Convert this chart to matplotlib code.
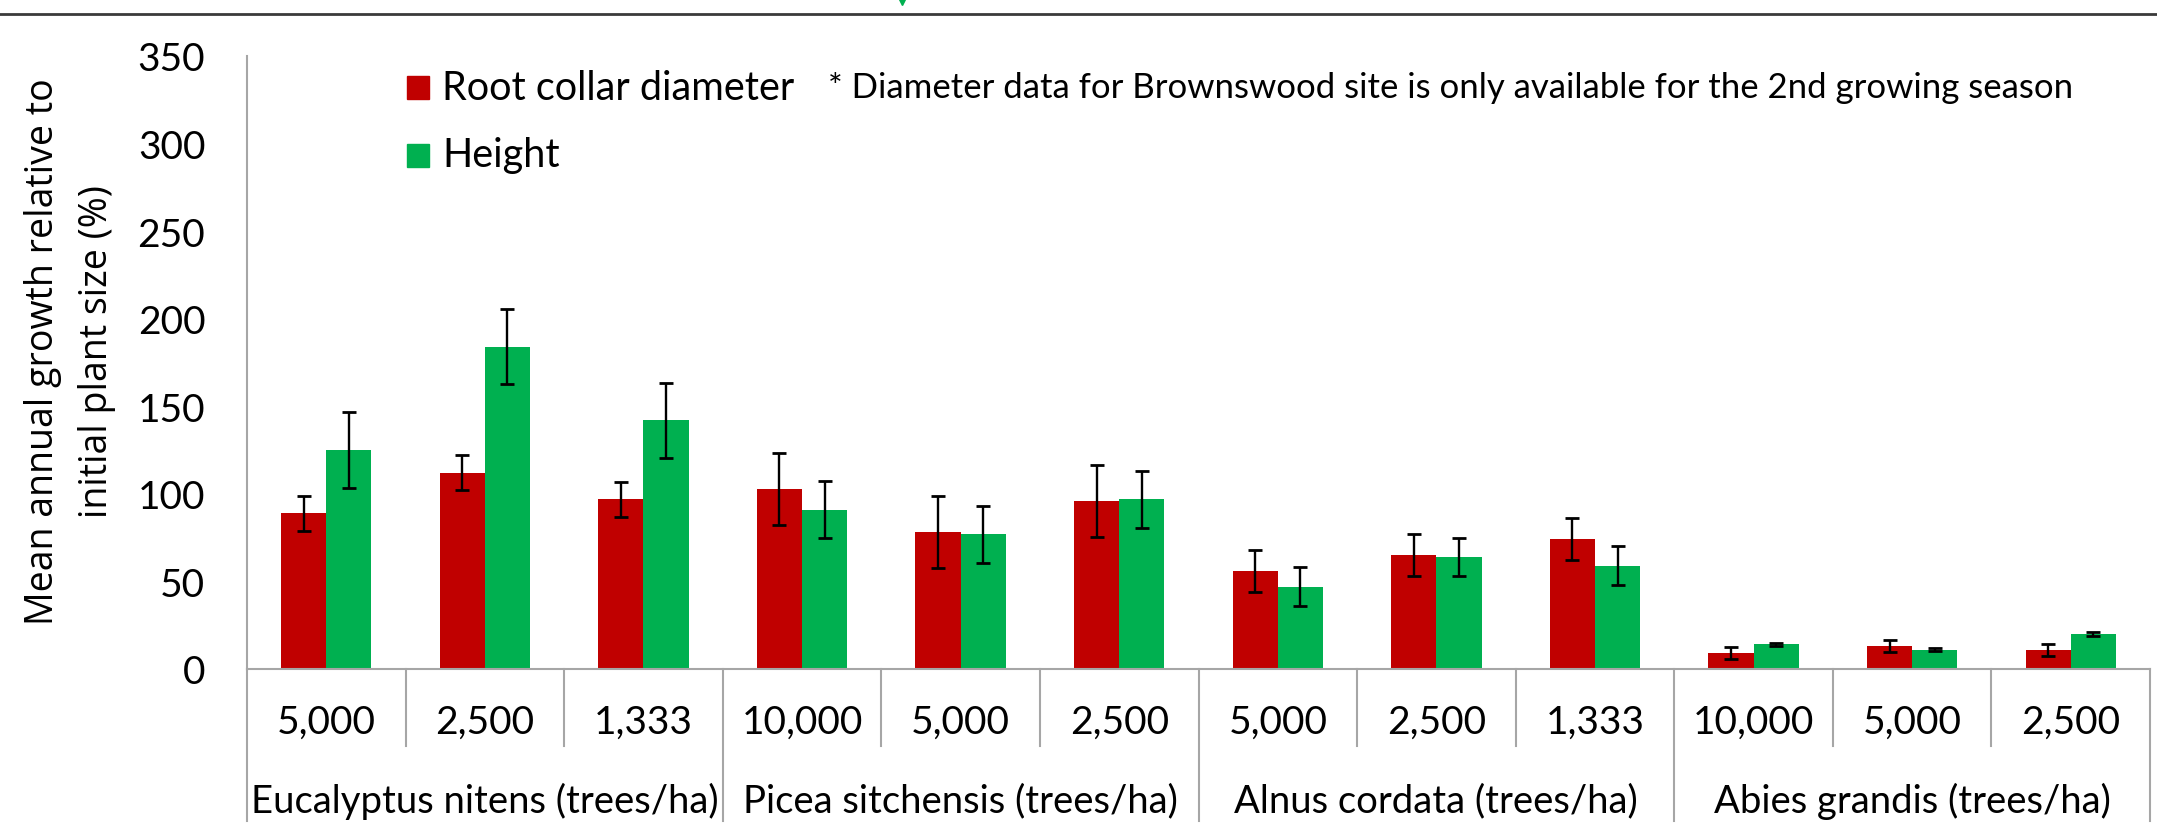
import matplotlib
matplotlib.use('Agg')
import matplotlib.pyplot as plt
from matplotlib.patches import Rectangle
from matplotlib.lines import Line2D
import matplotlib.transforms as mtransforms
import numpy as np

# data
densities = ['5,000', '2,500', '1,333', '10,000', '5,000', '2,500',
             '5,000', '2,500', '1,333', '10,000', '5,000', '2,500']
species = ['Eucalyptus nitens (trees/ha)', 'Picea sitchensis (trees/ha)',
           'Alnus cordata (trees/ha)', 'Abies grandis (trees/ha)']
per_species = 3
diameter = [89, 112, 97, 103, 78, 96, 56, 65, 74, 9, 13, 11]
diameter_err = [10, 10, 10, 20.5, 20.5, 20.5, 12, 12, 12, 3.5, 3.5, 3.5]
height = [125, 184, 142, 91, 77, 97, 47, 64, 59, 14, 11, 20]
height_err = [21.5, 21.5, 21.5, 16.3, 16.3, 16.3, 11, 11, 11, 1, 1, 1]
yticks = [0, 50, 100, 150, 200, 250, 300, 350]

RED = '#C00000'
GREEN = '#00B050'
GRID = '#A6A6A6'
FONT = ['Lato', 'DejaVu Sans']

W, H = 2157, 828
fig = plt.figure(figsize=(W / 100, H / 100), dpi=100)

def fx(px):
    return px / W

def fy(py):
    return 1 - py / H

ax = fig.add_axes([fx(247), fy(670), fx(2150) - fx(247), fy(57) - fy(670)])

x = np.arange(len(densities))
bw = 0.285
ekw = dict(ecolor='black', elinewidth=1.7, capsize=5, capthick=2)
ax.bar(x - bw / 2, diameter, bw, color=RED, yerr=diameter_err, error_kw=ekw, zorder=2)
ax.bar(x + bw / 2, height, bw, color=GREEN, yerr=height_err, error_kw=ekw, zorder=2)

ax.set_xlim(-0.5, len(densities) - 0.5)
ax.set_ylim(0, 350)
ax.set_yticks(yticks)
ax.set_yticklabels([str(v) for v in yticks], family=FONT, fontsize=28)
ax.tick_params(axis='y', length=0, pad=30)
ax.set_xticks([])
for s in ['top', 'right']:
    ax.spines[s].set_visible(False)
for s in ['left', 'bottom']:
    ax.spines[s].set_color(GRID)
    ax.spines[s].set_linewidth(1.5)

# category table under the axis
trans = mtransforms.blended_transform_factory(ax.transData, ax.transAxes)
row1_bottom = -(747 - 670) / 613
row2_bottom = -(822 - 670) / 613
for k in range(len(densities) + 1):
    bottom = row2_bottom if k % per_species == 0 else row1_bottom
    ax.add_line(Line2D([k - 0.5, k - 0.5], [0, bottom], transform=trans,
                       color=GRID, lw=1.5, clip_on=False))
for i, lab in enumerate(densities):
    ax.text(i, -(723 - 670) / 613, lab, transform=trans, ha='center', va='center',
            family=FONT, fontsize=28)
for j, sp in enumerate(species):
    ax.text(j * per_species + 1, -(801 - 670) / 613, sp, transform=trans,
            ha='center', va='center', family=FONT, fontsize=27.5)

# y label
fig.text(fx(70), fy(352), 'Mean annual growth relative to\ninitial plant size (%)',
         rotation=90, ha='center', va='center', family=['Open Sans', 'DejaVu Sans'],
         fontsize=27, linespacing=1.55)

# legend drawn by hand
fig.add_artist(Rectangle((fx(407), fy(100)), fx(22), 23 / H, color=RED, transform=fig.transFigure))
fig.add_artist(Rectangle((fx(407), fy(168)), fx(22), 23 / H, color=GREEN, transform=fig.transFigure))
fig.text(fx(442), fy(88), 'Root collar diameter', va='center', family=FONT, fontsize=28.5)
fig.text(fx(442), fy(156), 'Height', va='center', family=FONT, fontsize=28.5)
fig.text(fx(828), fy(88), '* Diameter data for Brownswood site is only available for the 2nd growing season',
         va='center', family=FONT, fontsize=25)

# header rule and cut-off marker at the top of the crop
fig.add_artist(Line2D([0, 1], [fy(15), fy(15)], color='#3A3A3A', lw=2, transform=fig.transFigure))
fig.add_artist(Line2D([fx(902)], [fy(1)], marker='v', color=GREEN, markersize=7,
                      transform=fig.transFigure))

fig.savefig('out.png', dpi=100)
